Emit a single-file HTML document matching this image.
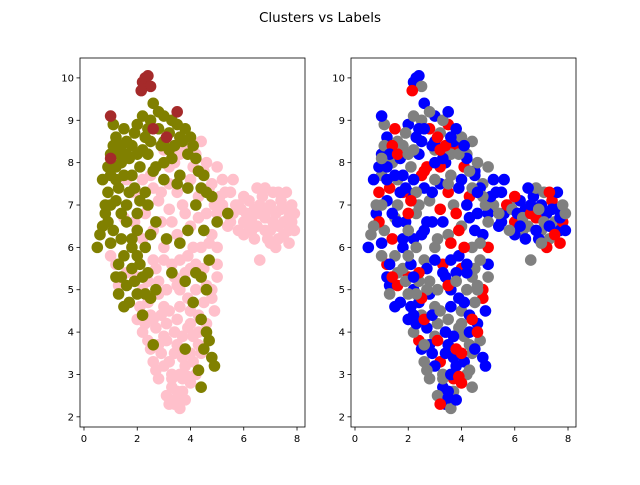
<!DOCTYPE html>
<html><head><meta charset="utf-8"><style>
body{margin:0;background:#fff;}
svg text{font-family:"DejaVu Sans","Liberation Sans",sans-serif;}
</style></head><body>
<svg id="fig" width="640" height="480" viewBox="0 0 640 480">
<rect width="640" height="480" fill="#fff"/>
<text x="320" y="22" text-anchor="middle" font-size="13.5">Clusters vs Labels</text>
<g id="left"></g>
<g id="right"></g>
</svg>
<script>
const xTicks=[0,2,4,6,8];
const yTicks=[2,3,4,5,6,7,8,9,10];
const pinkPts=[[5.6,6.8],[5.8,7.0],[6.0,6.6],[6.2,7.1],[6.4,6.9],[6.5,6.5],[6.7,7.2],[6.8,6.7],[7.0,6.4],[7.0,7.0],[7.2,6.8],[7.3,6.2],[7.4,7.1],[7.5,6.6],[7.6,6.9],[7.7,6.4],[7.8,7.0],[7.6,7.3],[7.2,6.0],[6.9,6.2],[6.3,6.4],[6.0,7.2],[5.4,6.5],[5.2,7.0],[5.0,6.8],[4.8,6.3],[6.6,5.7],[7.8,6.6],[7.1,7.3],[6.4,6.2],
[3.0,8.3],[3.4,8.0],[3.8,8.4],[4.2,8.2],[4.5,7.8],[4.8,7.5],[5.2,7.6],[5.5,7.3],[4.3,7.2],[3.7,7.0],[3.2,7.5],[2.8,7.1],[2.5,7.7],[2.0,7.3],[1.6,7.6],[2.9,6.6],[3.5,6.3],[4.0,6.5],[4.6,6.8],[5.0,6.0],[4.4,6.0],[3.0,6.0],[2.2,6.2],[1.5,6.7],[3.3,5.6],[3.9,5.8],[4.5,5.5],[5.0,5.3],[2.8,5.2],[2.2,5.0],[1.2,5.6],[1.6,5.4],[3.6,5.0],[4.2,5.0],[4.8,4.8],[3.0,4.6],[2.5,4.4],[2.0,4.3],[3.5,4.3],[4.0,4.5],[4.6,4.2],[2.4,3.8],[3.0,3.9],[3.5,3.7],[4.1,3.9],[4.4,3.5],[2.6,3.3],[3.2,3.3],[3.8,3.2],[4.2,3.0],[2.8,2.9],[3.3,2.7],[3.7,2.6],[4.0,2.8],[3.4,2.3],[3.6,2.2],[3.1,2.5],[2.9,3.5],[3.9,4.1],[4.9,4.5],[2.2,4.0],[3.2,6.9],[4.0,7.6],[4.6,8.0],[5.0,7.9],[1.9,6.6],[3.5,2.45],[3.3,3.0],[3.7,2.9],[2.7,4.1],[3.1,4.2],[4.3,4.0],[3.4,5.3],[4.0,5.5],[2.6,5.7],[5.6,7.6],[6.0,6.3],[6.8,7.4],
[3.2,2.3],[3.5,2.6],[3.8,2.4],[3.3,2.9],[3.6,3.0],[3.9,2.95],[4.1,3.3],[3.0,3.2],[2.7,3.1],[3.4,3.5],[3.7,3.4],[4.0,3.5],[4.3,3.7],[2.5,3.6],[2.8,3.7],[3.1,3.8],[3.4,4.0],[3.7,3.9],[4.0,4.2],[4.3,4.4],[2.3,4.2],[2.6,4.3],[2.9,4.4],[3.2,4.5],[3.6,4.6],[3.9,4.8],[4.5,4.7],[4.8,5.0],[2.1,4.6],[2.4,4.7],[2.8,4.9],[3.1,5.0],[3.5,5.1],[3.8,5.4],[4.2,5.6],[4.6,5.1],[5.0,5.6],[2.0,5.3],[2.4,5.2],[2.7,5.5],[3.0,5.7],[3.6,5.7],[4.1,6.0],[4.7,6.1],[1.3,5.1],[1.0,5.8],
[2.6,6.4],[3.3,6.6],[3.8,6.8],[4.3,6.7],[4.9,7.0],[5.3,7.3],[2.3,6.8],[2.9,7.3],[3.5,7.3],[4.1,7.9],[4.7,7.4],[3.6,8.2],[3.2,7.9],[2.6,7.4],[1.8,7.3],[2.2,7.6],[4.4,8.5],[5.1,7.2],[5.7,7.0],[5.5,6.6],
[5.9,6.9],[6.1,6.8],[6.3,6.7],[6.6,6.8],[6.6,7.0],[6.9,6.9],[7.1,6.6],[7.3,6.5],[7.5,6.3],[7.7,6.7],[7.9,6.8],[7.4,6.9],[6.8,6.4],[7.0,6.1],[7.7,6.1],[7.9,6.4],[6.2,6.5],[5.8,6.4],[7.3,7.3],[6.5,7.4]];
const olivePts=[[0.5,6.0],[0.6,6.3],[0.8,6.8],[0.9,7.3],[1.0,7.7],[1.0,8.2],[1.2,8.6],[1.4,8.0],[1.5,8.8],[1.8,8.4],[2.0,8.9],[2.3,8.6],[2.5,9.0],[2.6,9.4],[2.8,8.8],[3.0,9.1],[3.2,8.7],[3.5,8.9],[3.7,8.5],[4.0,8.6],[4.2,8.1],[4.5,7.7],[4.8,7.2],[1.3,7.4],[1.6,7.0],[1.8,7.7],[2.1,7.9],[2.4,8.2],[2.7,7.9],[3.0,7.6],[3.3,8.1],[3.6,7.7],[3.9,7.4],[4.2,7.0],[2.0,6.8],[2.4,7.0],[2.7,6.6],[1.1,6.4],[1.4,6.2],[1.8,6.2],[2.3,6.0],[1.2,5.3],[1.5,5.8],[1.8,5.5],[2.1,5.6],[2.4,5.4],[2.7,5.0],[1.3,4.9],[1.7,4.7],[2.0,4.9],[2.5,4.8],[3.3,5.4],[3.8,5.2],[4.4,5.3],[4.7,5.7],[4.1,4.7],[4.4,4.3],[4.7,3.8],[4.8,3.4],[4.3,3.1],[3.8,3.6],[4.4,2.7],[2.6,3.7],[2.2,4.4],[5.4,6.8],[5.0,6.6],[4.5,6.4],[3.6,6.1],[3.1,6.2],[2.5,6.3],[1.1,8.9],[1.6,8.5],[2.2,8.3],[0.9,6.6],[1.2,7.1],
[0.7,6.5],[1.0,7.0],[1.2,7.9],[1.1,8.4],[1.4,8.4],[1.7,8.1],[1.9,8.7],[2.2,9.1],[2.4,8.8],[2.8,9.2],[3.0,8.5],[3.3,9.0],[3.4,8.4],[3.8,8.8],[3.9,8.2],[4.4,7.4],[1.5,7.7],[1.9,7.4],[2.3,7.3],[2.6,7.8],[3.0,8.0],[3.5,7.5],[1.6,6.6],[1.3,5.6],[1.6,5.1],[1.9,5.2],[2.2,5.3],[1.5,4.6],[2.3,4.9],[4.6,4.0],[4.5,3.6],[4.9,3.2],[4.6,5.0],[4.2,5.4],[3.9,6.4],[0.7,7.6],[1.8,6.0],
[0.8,7.0],[0.9,7.9],[1.3,8.2],[1.6,8.2],[2.0,8.2],[2.5,8.5],[2.9,8.4],[3.2,8.3],[3.6,8.6],[4.1,8.4],[4.3,7.8],[1.2,7.6],[1.7,7.3],[2.1,7.1],[1.4,6.8],[2.0,6.4],[1.0,6.1],[4.6,7.3],[2.0,5.8],[1.4,5.3]];
const brownPts=[[2.2,9.9],[2.3,10.0],[2.4,10.05],[2.5,9.8],[2.15,9.7],[1.0,9.1],[3.5,9.2],[1.0,8.1],[2.6,8.8],[3.1,8.6]];
const labelStr="bgrbbgbrgbbgrgbbgbrbgrbgbbgrgbgbrgbgbbrgbgrbgbggbrggbgrbgggbrgbgrggbggbrgbgggrbggbgrbggbgbgrbggbbgrbgbbrgbbgrbbgbrbbgbbrgbbrbbgbbrbgbbgrbbbgrbbgbrgbbbrgbgbbrbgbgbrrbgrbrbgbrbgbgrbggbrbgbbgrb";
const clusterColors={pink:"#ffc0cb",olive:"#808000",brown:"#a52a2a"};
const labelColors={r:"#ff0000",b:"#0000ff",g:"#808080"};
const NS="http://www.w3.org/2000/svg";
function mk(tag,attrs,parent){const e=document.createElementNS(NS,tag);for(const k in attrs)e.setAttribute(k,attrs[k]);parent.appendChild(e);return e;}
function axes(g,x0,pfx){
  const W=225,H=369,y0=58;
  const sx=v=>x0+(v+0.15)/8.45*W, sy=v=>y0+(10.47-v)/8.71*H;
  mk("rect",{x:x0,y:y0,width:W,height:H,fill:"#fff"},g);
  const marks=mk("g",{},g);
  const frame=mk("rect",{x:x0,y:y0,width:W,height:H,fill:"none",stroke:"#000","stroke-width":0.8},g);
  
  
  xTicks.forEach(t=>{const X=sx(t);
    mk("line",{x1:X,x2:X,y1:y0+H,y2:y0+H+3.5,stroke:"#000","stroke-width":0.8},g);
    const tx=mk("text",{x:X,y:y0+H+15,"text-anchor":"middle","font-size":10},g);tx.textContent=t;
    
    });
  yTicks.forEach(t=>{const Y=sy(t);
    mk("line",{x1:x0-3.5,x2:x0,y1:Y,y2:Y,stroke:"#000","stroke-width":0.8},g);
    const tx=mk("text",{x:x0-6,y:Y+3.5,"text-anchor":"end","font-size":10},g);tx.textContent=t;
    
    });
  return {sx,sy,marks};
}
const L=axes(document.getElementById("left"),80,"left");
function dot(ax,p,c,name){const e=mk("circle",{cx:ax.sx(p[0]),cy:ax.sy(p[1]),r:5.8,fill:c},ax.marks);
  
  }
pinkPts.forEach(p=>dot(L,p,clusterColors.pink,"pink-cluster-point"));
olivePts.forEach(p=>dot(L,p,clusterColors.olive,"olive-cluster-point"));
brownPts.forEach(p=>dot(L,p,clusterColors.brown,"brown-cluster-point"));
const R=axes(document.getElementById("right"),351,"right");
const allPts=pinkPts.concat(olivePts,brownPts);
allPts.forEach((p,i)=>{const l=labelStr[i%labelStr.length];dot(R,p,labelColors[l],"label-point-"+l);});
</script>
</body></html>
